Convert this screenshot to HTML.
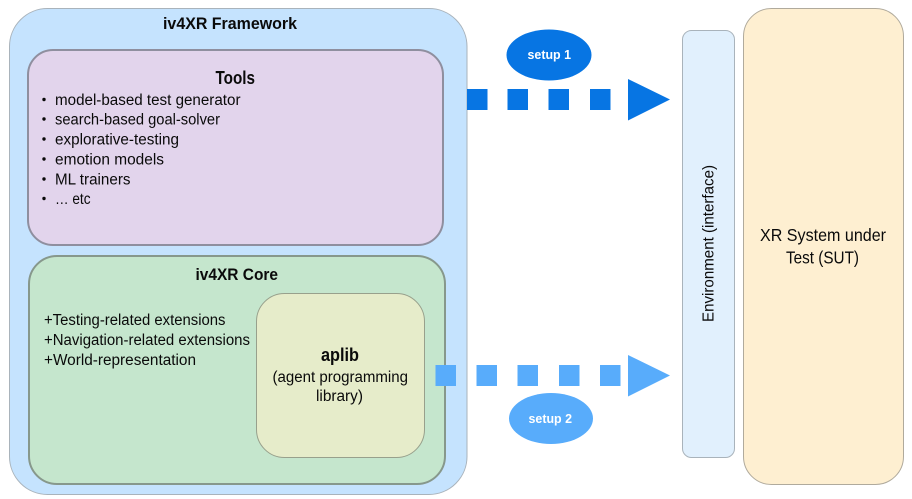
<!DOCTYPE html>
<html><head><meta charset="utf-8"><style>
html,body{margin:0;padding:0;background:#fff;width:912px;height:499px;overflow:hidden}
svg{display:block}
text{font-family:"Liberation Sans",sans-serif;fill:#0a0a0a}
.b{font-weight:bold}
</style></head><body>
<svg width="912" height="499" viewBox="0 0 912 499" xmlns="http://www.w3.org/2000/svg">
<rect x="9.5" y="8.5" width="457.5" height="486" rx="38" fill="#c5e3fe" stroke="#a9b3bb"/>
<rect x="28" y="50" width="415" height="195" rx="25" fill="#e2d4ec" stroke="#8f8f9f" stroke-width="2"/>
<rect x="29" y="256" width="416" height="228" rx="28" fill="#c5e6cd" stroke="#87988c" stroke-width="2"/>
<rect x="256.5" y="293.5" width="168" height="164" rx="28" fill="#e6ecca" stroke="#98a08c"/>
<rect x="682.5" y="30.5" width="52" height="427" rx="9" fill="#e1f0fd" stroke="#a9b3bb"/>
<rect x="743.5" y="8.5" width="160" height="476" rx="28" fill="#feefd1" stroke="#b0aa9c"/>

<g fill="#0775e3">
<rect x="467" y="89" width="20.5" height="21"/><rect x="507.5" y="89" width="20.5" height="21"/><rect x="548.5" y="89" width="20.5" height="21"/><rect x="590" y="89" width="20.5" height="21"/>
<polygon points="628,79 670,99.5 628,120.5"/>
<ellipse cx="549" cy="55" rx="42.5" ry="25.5"/>
</g>
<g fill="#58acfb">
<rect x="435.5" y="365" width="20.5" height="21"/><rect x="476.5" y="365" width="20.5" height="21"/><rect x="517.5" y="365" width="20.5" height="21"/><rect x="559" y="365" width="20.5" height="21"/><rect x="600" y="365" width="20.5" height="21"/>
<polygon points="628,355 670,375.5 628,396.5"/>
<ellipse cx="551" cy="418.5" rx="42" ry="25.5"/>
</g>

<text class="b" x="163" y="29" font-size="17" textLength="134" lengthAdjust="spacingAndGlyphs">iv4XR Framework</text>
<text class="b" x="215.5" y="84" font-size="18" textLength="39.5" lengthAdjust="spacingAndGlyphs">Tools</text>

<g fill="#0a0a0a">
<circle cx="44" cy="99.5" r="1.7"/><circle cx="44" cy="119" r="1.7"/><circle cx="44" cy="139" r="1.7"/><circle cx="44" cy="159" r="1.7"/><circle cx="44" cy="179" r="1.7"/><circle cx="44" cy="198.5" r="1.7"/>
</g>
<g font-size="15.5">
<text x="55" y="105" textLength="185.5" lengthAdjust="spacingAndGlyphs">model-based test generator</text>
<text x="55" y="124.5" textLength="165" lengthAdjust="spacingAndGlyphs">search-based goal-solver</text>
<text x="55" y="144.5" textLength="124" lengthAdjust="spacingAndGlyphs">explorative-testing</text>
<text x="55" y="164.5" textLength="109" lengthAdjust="spacingAndGlyphs">emotion models</text>
<text x="55" y="184.5" textLength="75.5" lengthAdjust="spacingAndGlyphs">ML trainers</text>
<text x="55" y="204" textLength="35.5" lengthAdjust="spacingAndGlyphs">… etc</text>
</g>

<text class="b" x="195.5" y="280" font-size="17" textLength="82.5" lengthAdjust="spacingAndGlyphs">iv4XR Core</text>
<g font-size="15.5">
<text x="44" y="325" textLength="181.5" lengthAdjust="spacingAndGlyphs">+Testing-related extensions</text>
<text x="44" y="345" textLength="206" lengthAdjust="spacingAndGlyphs">+Navigation-related extensions</text>
<text x="44" y="365" textLength="152" lengthAdjust="spacingAndGlyphs">+World-representation</text>
<text x="272.5" y="382" textLength="135.5" lengthAdjust="spacingAndGlyphs">(agent programming</text>
<text x="316" y="401" textLength="47" lengthAdjust="spacingAndGlyphs">library)</text>
</g>
<text class="b" x="321" y="361" font-size="18" textLength="38" lengthAdjust="spacingAndGlyphs">aplib</text>

<text x="760" y="241" font-size="17.5" textLength="126" lengthAdjust="spacingAndGlyphs">XR System under</text>
<text x="786" y="263.5" font-size="17.5" textLength="73" lengthAdjust="spacingAndGlyphs">Test (SUT)</text>

<text transform="translate(713.5 322) rotate(-90)" font-size="15.5" textLength="157" lengthAdjust="spacingAndGlyphs">Environment (interface)</text>

<text class="b" x="527.5" y="59" font-size="12.5" textLength="43.5" lengthAdjust="spacingAndGlyphs" style="fill:#fff">setup 1</text>
<text class="b" x="528.5" y="423" font-size="12.5" textLength="43.5" lengthAdjust="spacingAndGlyphs" style="fill:#fff">setup 2</text>
</svg>
</body></html>
